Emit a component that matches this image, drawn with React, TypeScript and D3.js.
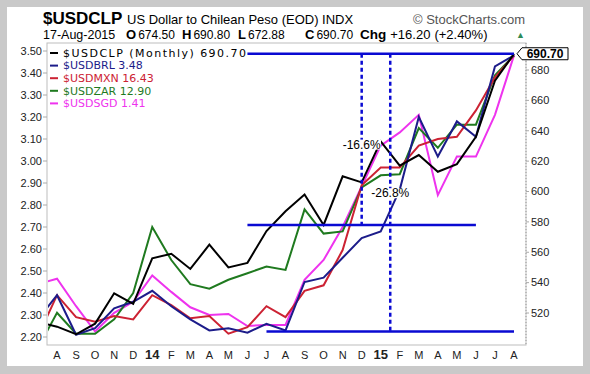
import React, { useRef, useEffect } from 'react';
import * as d3 from 'd3';

// month index 0 = Jul 2013 ... 25 = Aug 2015
const monthLabels = ['', 'A', 'S', 'O', 'N', 'D', '14', 'F', 'M', 'A', 'M', 'J', 'J', 'A', 'S', 'O', 'N', 'D', '15', 'F', 'M', 'A', 'M', 'J', 'J', 'A'];
const yearLabels = ['14', '15'];

// $USDCLP, right axis (pesos)
const usdclp = [514, 511, 506, 513, 533, 526, 556, 559, 549, 565, 550, 553, 574, 587, 598, 578, 610, 606, 633, 617, 624, 613, 618, 636, 673, 690.7];
// overlays, read on the left axis scale
const usdbrl = [2.28, 2.39, 2.21, 2.24, 2.33, 2.36, 2.41, 2.34, 2.28, 2.23, 2.24, 2.22, 2.26, 2.23, 2.45, 2.47, 2.56, 2.65, 2.68, 2.87, 3.2, 3.02, 3.18, 3.11, 3.43, 3.48];
const usdmxn = [2.205, 2.39, 2.29, 2.27, 2.295, 2.28, 2.39, 2.345, 2.285, 2.295, 2.215, 2.245, 2.34, 2.29, 2.41, 2.435, 2.595, 2.89, 2.97, 2.97, 3.07, 3.1, 3.11, 3.23, 3.38, 3.48];
const usdzar = [2.15, 2.31, 2.215, 2.215, 2.28, 2.4, 2.7, 2.55, 2.44, 2.42, 2.46, 2.49, 2.52, 2.505, 2.78, 2.67, 2.68, 2.88, 2.935, 2.94, 3.15, 3.06, 3.165, 3.165, 3.39, 3.48];
const usdsgd = [2.44, 2.465, 2.34, 2.225, 2.31, 2.36, 2.48, 2.405, 2.335, 2.3, 2.305, 2.25, 2.255, 2.255, 2.46, 2.55, 2.7, 2.885, 3.07, 3.13, 3.21, 2.845, 3.02, 3.02, 3.21, 3.48];

const leftTicks = [2.2, 2.3, 2.4, 2.5, 2.6, 2.7, 2.8, 2.9, 3.0, 3.1, 3.2, 3.3, 3.4, 3.5];
const rightTicks = [520, 540, 560, 580, 600, 620, 640, 660, 680];

const legendNames = ['$USDCLP (Monthly) 690.70', '$USDBRL 3.48', '$USDMXN 16.43', '$USDZAR 12.90', '$USDSGD 1.41'];
const legendColors = ['#000000', '#1c1c8a', '#cc2233', '#1f7a1f', '#ee33ee'];

// header quote
const quoteLabels = ['O', 'H', 'L', 'C'];
const quoteValues = ['674.50', '690.80', '672.88', '690.70'];

// annotation levels
const topLevel = 690.7;
const midLevel = 578;
const lowLevel = 2.225;

export default function App() {
  const svgRef = useRef<SVGSVGElement>(null);

  useEffect(() => {
    if (!svgRef.current) return;
    const width = 590;
    const height = 374;
    const plot = { left: 47, right: 526, top: 43, bottom: 345 };

    const svg = d3.select(svgRef.current);
    svg.selectAll('*').remove();
    svg.attr('viewBox', `0 0 ${width} ${height}`);

    // frame
    svg.append('rect').attr('width', width).attr('height', height).attr('fill', '#c9c9c9');
    svg.append('rect').attr('x', 7).attr('y', 7).attr('width', width - 14).attr('height', height - 15).attr('fill', '#fff');

    const x = d3.scaleLinear().domain([0, 25]).range([38, 514]);
    const yL = d3.scaleLinear().domain([2.2, 3.5]).range([337, 51]);
    const yR = d3.scaleLinear().domain([520, 680]).range([313, 70]);

    const font = 'Liberation Sans, Arial, sans-serif';

    // header
    const h = svg.append('g').attr('font-family', font);
    h.append('text').attr('x', 43).attr('y', 24).attr('font-size', 17).attr('font-weight', 'bold').text('$USDCLP');
    h.append('text').attr('x', 127).attr('y', 24).attr('font-size', 13).text('US Dollar to Chilean Peso (EOD) INDX');
    h.append('text').attr('x', 413).attr('y', 24).attr('font-size', 13).attr('fill', '#555').text('\u00A9 StockCharts.com');

    h.append('text').attr('x', 43).attr('y', 39).attr('font-size', 12.5).text('17-Aug-2015');
    const quoteX = [126, 182, 238, 305];
    quoteLabels.forEach((q, i) => {
      const t = h.append('text').attr('x', quoteX[i]).attr('y', 39).attr('font-size', 12);
      t.append('tspan').attr('font-weight', 'bold').attr('font-size', 13).text(q);
      t.append('tspan').attr('dx', 2).text(quoteValues[i]);
    });
    const chg = h.append('text').attr('x', 360).attr('y', 39).attr('font-size', 13);
    chg.append('tspan').attr('font-weight', 'bold').attr('font-size', 13.5).text('Chg');
    chg.append('tspan').attr('dx', 4).text('+16.20');
    chg.append('tspan').attr('dx', 4).text('(+2.40%)');
    h.append('text').attr('x', 516).attr('y', 38).attr('font-size', 9).attr('fill', '#2e8b57').text('\u25B2');

    // plot border
    svg.append('rect')
      .attr('x', plot.left).attr('y', plot.top)
      .attr('width', plot.right - plot.left).attr('height', plot.bottom - plot.top)
      .attr('fill', 'none').attr('stroke', '#bdbdbd');
    svg.append('line')
      .attr('x1', plot.right).attr('x2', plot.right).attr('y1', plot.top).attr('y2', plot.bottom)
      .attr('stroke', '#999').attr('stroke-dasharray', '1,2');

    // left axis
    const la = svg.append('g').attr('font-family', font).attr('font-size', 11).attr('fill', '#222');
    leftTicks.forEach((t) => {
      la.append('text').attr('x', 42).attr('y', yL(t)).attr('dy', '0.35em').attr('text-anchor', 'end').text(t.toFixed(2));
      la.append('line').attr('x1', 43).attr('x2', plot.left).attr('y1', yL(t)).attr('y2', yL(t)).attr('stroke', '#aaa');
    });

    // right axis
    const ra = svg.append('g').attr('font-family', font).attr('font-size', 11).attr('fill', '#222');
    rightTicks.forEach((t) => {
      ra.append('text').attr('x', 531).attr('y', yR(t)).attr('dy', '0.35em').text(t);
      ra.append('line').attr('x1', plot.right).attr('x2', plot.right + 3).attr('y1', yR(t)).attr('y2', yR(t)).attr('stroke', '#aaa');
    });

    // month axis
    const ma = svg.append('g').attr('font-family', font).attr('font-size', 11).attr('fill', '#222');
    monthLabels.forEach((m, i) => {
      if (!m) return;
      const isYear = yearLabels.includes(m);
      ma.append('text').attr('x', x(i)).attr('y', 359).attr('text-anchor', 'middle')
        .attr('font-weight', isYear ? 'bold' : 'normal').attr('font-size', isYear ? 13 : 11).text(m);
    });

    // series
    svg.append('defs').append('clipPath').attr('id', 'plotClip')
      .append('rect').attr('x', plot.left + 1).attr('y', plot.top).attr('width', plot.right - plot.left - 1).attr('height', plot.bottom - plot.top);
    const g = svg.append('g').attr('clip-path', 'url(#plotClip)');

    const lineL = d3.line<number>().x((_, i) => x(i)).y((d) => yL(d));
    const lineR = d3.line<number>().x((_, i) => x(i)).y((d) => yR(d));

    const overlays: [number[], string][] = [
      [usdsgd, legendColors[4]],
      [usdzar, legendColors[3]],
      [usdmxn, legendColors[2]],
      [usdbrl, legendColors[1]],
    ];
    overlays.forEach(([data, color]) => {
      g.append('path').datum(data).attr('d', lineL).attr('fill', 'none').attr('stroke', color).attr('stroke-width', 2);
    });
    g.append('path').datum(usdclp).attr('d', lineR).attr('fill', 'none').attr('stroke', '#000').attr('stroke-width', 2);

    // annotations
    const annBlue = '#0a0ad2';
    const ann = svg.append('g').attr('stroke', annBlue).attr('stroke-width', 2.5);
    ann.append('line').attr('x1', x(11)).attr('x2', x(25)).attr('y1', yR(topLevel)).attr('y2', yR(topLevel));
    ann.append('line').attr('x1', x(11)).attr('x2', x(23)).attr('y1', yR(midLevel)).attr('y2', yR(midLevel));
    ann.append('line').attr('x1', x(12)).attr('x2', x(25)).attr('y1', yL(lowLevel)).attr('y2', yL(lowLevel));
    ann.append('line').attr('x1', x(17)).attr('x2', x(17)).attr('y1', yR(topLevel)).attr('y2', yR(midLevel))
      .attr('stroke-dasharray', '4,3');
    ann.append('line').attr('x1', x(18.5)).attr('x2', x(18.5)).attr('y1', yR(topLevel)).attr('y2', yL(lowLevel))
      .attr('stroke-dasharray', '4,3');

    const pct = (label: string, cx: number, cy: number) => {
      const t = svg.append('text').attr('x', cx).attr('y', cy).attr('dy', '0.35em').attr('text-anchor', 'middle')
        .attr('font-family', font).attr('font-size', 12).text(label);
      const bb = (t.node() as SVGTextElement).getBBox();
      svg.insert('rect', () => t.node()).attr('x', bb.x).attr('y', bb.y + 2).attr('width', bb.width).attr('height', bb.height - 4).attr('fill', '#fff');
    };
    pct('-16.6%', x(17), yR(631));
    pct('-26.8%', x(18.5), yR(599));

    // legend
    const lg = svg.append('g').attr('font-family', 'DejaVu Sans, Verdana, sans-serif').attr('font-size', 11);
    legendNames.forEach((name, i) => {
      const ly = 53 + i * 12.6;
      lg.append('line').attr('x1', 50).attr('x2', 58).attr('y1', ly).attr('y2', ly).attr('stroke', legendColors[i]).attr('stroke-width', 2);
      const t = lg.append('text').attr('x', 63).attr('y', ly).attr('dy', '0.35em').attr('fill', legendColors[i]).text(name);
      if (i === 0) t.attr('textLength', 183).attr('lengthAdjust', 'spacing');
    });

    // last value tag
    const tagY = yR(usdclp[usdclp.length - 1]);
    const tag = svg.append('g');
    tag.append('path')
      .attr('d', `M517,${tagY} L522,${tagY - 6} L568,${tagY - 6} L568,${tagY + 6} L522,${tagY + 6} Z`)
      .attr('fill', '#fff').attr('stroke', '#000');
    tag.append('text').attr('x', 545).attr('y', tagY).attr('dy', '0.36em').attr('text-anchor', 'middle')
      .attr('font-family', font).attr('font-size', 12).attr('font-weight', 'bold').text('690.70');
  }, []);

  return (
    <svg ref={svgRef} width={590} height={374} style={{ position: 'absolute', left: 0, top: 0 }} />
  );
}
